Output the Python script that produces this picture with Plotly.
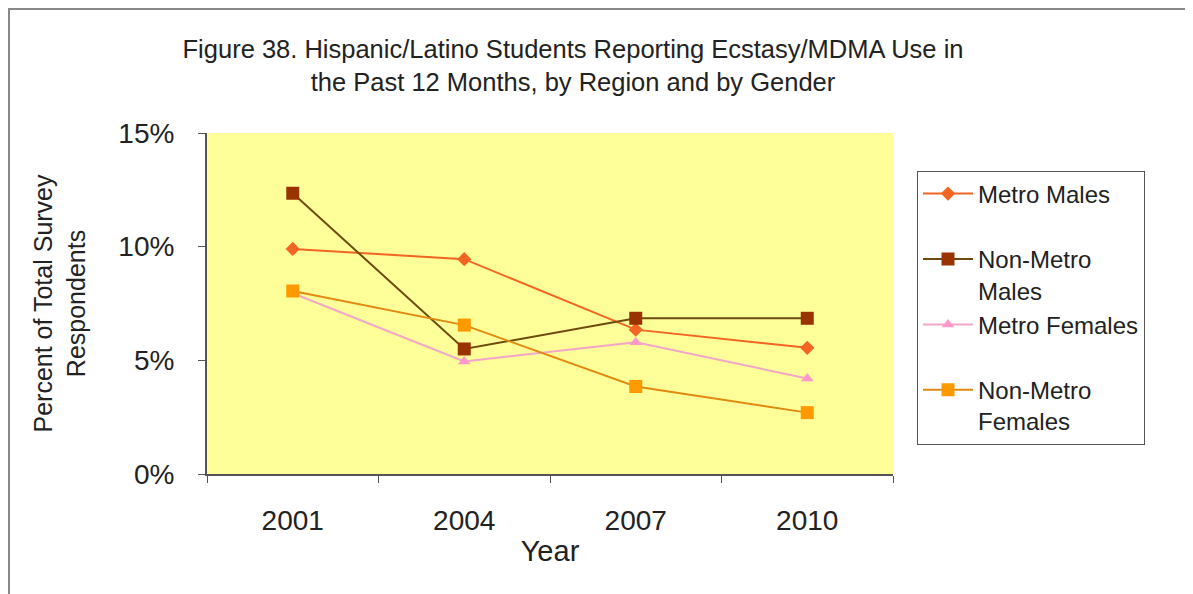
import plotly.graph_objects as go

years = ["2001", "2004", "2007", "2010"]
metro_males = [9.9, 9.45, 6.35, 5.55]
nonmetro_males = [12.35, 5.5, 6.85, 6.85]
metro_females = [7.95, 4.95, 5.8, 4.2]
nonmetro_females = [8.05, 6.55, 3.85, 2.7]

series = [
    ("Metro Males<br> ", metro_males, "#F26522", "diamond", 11, "#F26522"),
    ("Non-Metro<br>Males", nonmetro_males, "#993300", "square", 13, "#6E4A0E"),
    ("Metro Females<br> ", metro_females, "#FF99CC", "triangle-up", 11, "#F4A6C8"),
    ("Non-Metro<br>Females", nonmetro_females, "#FF9900", "square", 13, "#E08A10"),
]

fig = go.Figure()
for i, (name, vals, mcol, sym, size, lcol) in enumerate(series):
    fig.add_trace(go.Scatter(
        x=years, y=vals, name=name, mode="lines+markers",
        line=dict(color=lcol, width=2),
        marker=dict(color=mcol, symbol=sym, size=size),
    ))

font = "Liberation Sans, Arial, sans-serif"
txt = "#222222"
fig.update_layout(
    width=1185, height=586,
    margin=dict(l=199, r=300, t=125, b=120),
    paper_bgcolor="white",
    plot_bgcolor="#FFFF99",
    font=dict(family=font, size=26, color=txt),
    title=dict(
        text="Figure 38. Hispanic/Latino Students Reporting Ecstasy/MDMA Use in<br>the Past 12 Months, by Region and by Gender",
        x=0.4768, xanchor="center", y=0.9155, yanchor="middle",
        font=dict(size=25.5, color=txt),
    ),
    xaxis=dict(
        type="category", range=[-0.5, 3.5],
        showline=True, linecolor="#555555", linewidth=2,
        ticks="outside", ticklen=7, tickcolor="#555555", tickson="boundaries",
        showgrid=False, zeroline=False,
        tickfont=dict(size=28), ticklabelstandoff=20,
        title=dict(text="Year", standoff=6, font=dict(size=29)),
    ),
    yaxis=dict(
        range=[0, 15], tickvals=[0, 5, 10, 15], ticktext=["0%", "5%", "10%", "15%"],
        showline=True, linecolor="#555555", linewidth=2,
        ticks="outside", ticklen=7, tickcolor="#555555",
        showgrid=False, zeroline=False,
        tickfont=dict(size=28), ticklabelstandoff=18,
        title=dict(text="Percent of Total Survey<br>Respondents", standoff=26, font=dict(size=25)),
    ),
    legend=dict(
        x=1.035, y=0.89, xanchor="left", yanchor="top",
        bordercolor="#555555", borderwidth=1, bgcolor="white",
        font=dict(size=24), tracegroupgap=0, itemwidth=50, valign="top",
    ),
    shapes=[dict(type="rect", xref="paper", yref="paper",
                 x0=-0.2886, x1=1.430, y0=-0.4, y1=1.3636,
                 line=dict(color="#888888", width=2), fillcolor="rgba(0,0,0,0)")],
)

fig.write_html("out.html")
